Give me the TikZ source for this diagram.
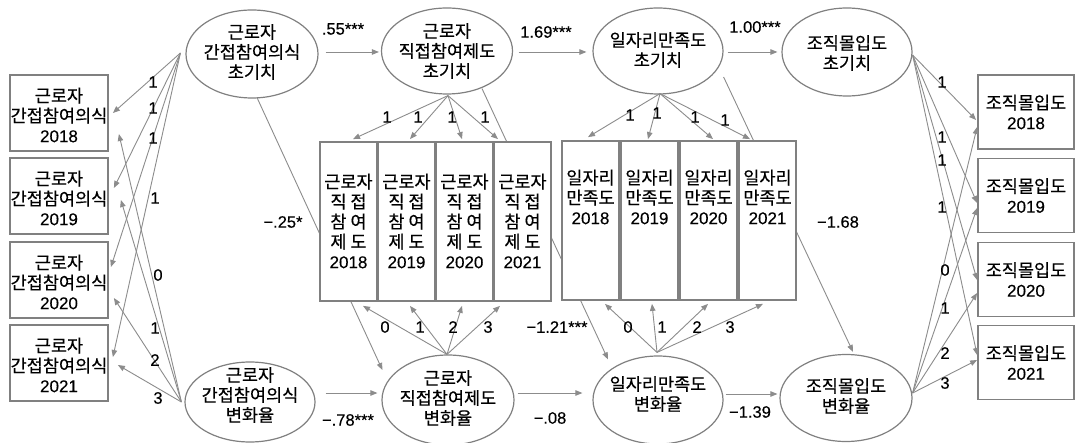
\documentclass[tikz,border=0pt]{standalone}
\usepackage{fontspec}
\usetikzlibrary{shapes.geometric,arrows.meta,calc}
\newfontfamily\krf[FakeBold=0.4]{Noto Sans CJK KR}
\newfontfamily\numf[FakeBold=0.3]{Liberation Sans}
\definecolor{lc}{HTML}{8C8C8C}
\definecolor{bc}{HTML}{808080}
\newcommand\yrtxt[1]{{\numf\fontsize{17}{20}\selectfont #1}}
\begin{document}
\begin{tikzpicture}[x=1pt,y=-1pt,
  lat/.style={ellipse, draw=bc, line width=1.2pt, fill=white, inner sep=0pt},
  obs/.style={rectangle, draw=bc, line width=1.8pt, fill=white, inner sep=0pt},
  txt/.style={align=center, inner sep=0pt, font=\krf\fontsize{17.5}{20}\selectfont},
  lab/.style={inner sep=0pt, font=\numf\fontsize{16.5}{18}\selectfont},
  pth/.style={draw=lc, line width=0.9pt, -{Triangle[length=7pt,width=5.5pt,fill=lc]}}
]
\useasboundingbox[fill=white] (0,0) rectangle (1075,443);

% latent variables
\node[lat, minimum width=132pt, minimum height=88pt] (L1) at (252,54) {};
\node[lat, minimum width=131pt, minimum height=86pt] (L2) at (447,51) {};
\node[lat, minimum width=130pt, minimum height=86pt] (L3) at (658,51) {};
\node[lat, minimum width=130pt, minimum height=88pt] (L4) at (847,52) {};
\node[lat, minimum width=130pt, minimum height=80pt] (S1) at (250,402) {};
\node[lat, minimum width=132pt, minimum height=90pt] (S2) at (448,400) {};
\node[lat, minimum width=130pt, minimum height=88pt] (S3) at (658,400) {};
\node[lat, minimum width=132pt, minimum height=87pt] (S4) at (846,398) {};

\node[txt] (L1t) at (252,52) {근로자\\간접참여의식\\초기치};
\node[txt] (L2t) at (447,51) {근로자\\직접참여제도\\초기치};
\node[txt] (L3t) at (658,50) {일자리만족도\\초기치};
\node[txt] (L4t) at (847,53) {조직몰입도\\초기치};
\node[txt] (S1t) at (250,395) {근로자\\간접참여의식\\변화율};
\node[txt] (S2t) at (448,398) {근로자\\직접참여제도\\변화율};
\node[txt] (S3t) at (658,394) {일자리만족도\\변화율};
\node[txt] (S4t) at (846,396) {조직몰입도\\변화율};

% long paths drawn under the boxes
\draw[pth] ($(L1.south)+(5,-1)$) -- ($(S2.west)+(1,-30)$);
\draw[pth] ($(L2.south)+(35,-6)$) -- ($(S3.north)+(-50,4)$);
\draw[pth] ($(L3.east)+(0,26)$) -- ($(S4.north)+(7,-2)$);

% left observed
\foreach \i/\y/\yr in {1/113/2018,2/196/2019,3/280/2020,4/363/2021}{
  \node[obs, minimum width=98pt, minimum height=76pt] (A\i) at (59,\y) {};
  \node[txt] (A\i t) at (59,\y+2) {근로자\\간접참여의식\\\yrtxt{\yr}};
}
% middle observed (direct participation)
\foreach \i/\x/\yr in {1/348.5/2018,2/406.5/2019,3/464.5/2020,4/522.5/2021}{
  \node[obs, minimum width=57pt, minimum height=159pt] (B\i) at (\x,221.5) {};
  \node[txt] (B\i t) at (\x,221) {근로자\\직 접\\참 여\\제 도\\\yrtxt{\yr}};
}
% middle observed (job satisfaction)
\foreach \i/\x/\yr in {1/590.5/2018,2/649.5/2019,3/708.5/2020,4/767.5/2021}{
  \node[obs, minimum width=57pt, minimum height=159pt] (C\i) at (\x,220.5) {};
  \node[txt] (C\i t) at (\x,197) {일자리\\만족도\\\yrtxt{\yr}};
}
% right observed
\foreach \i/\y/\yr in {1/112/2018,2/195.5/2019,3/279.5/2020,4/362.5/2021}{
  \node[obs, minimum width=96pt, minimum height=74pt] (D\i) at (1026,\y) {};
  \node[txt] (D\i t) at (1026,\y) {조직몰입도\\\yrtxt{\yr}};
}

% origins
\coordinate (o1) at ($(L1.west)+(-5,-1)$);
\coordinate (o2) at ($(S1.west)+(-3,0)$);
\coordinate (o3) at ($(L2.south)+(1,1)$);
\coordinate (o4) at ($(S2.north)+(-1,0)$);
\coordinate (o5) at ($(L3.south)+(2,-1)$);
\coordinate (o6) at ($(S3.north)+(-1,-3)$);
\coordinate (o7) at ($(L4.east)+(0,3)$);
\coordinate (o8) at ($(S4.east)+(0,-5)$);

% left loadings
\draw[pth] (o1) -- ($(A1.east)+(4,0)$);
\draw[pth] (o1) -- ($(A2.east)+(5,-8)$);
\draw[pth] (o1) -- ($(A3.east)+(2,-13)$);
\draw[pth] (o1) -- ($(A4.east)+(4,-6)$);
\draw[pth] (o2) -- ($(A1.east)+(10,21)$);
\draw[pth] (o2) -- ($(A2.east)+(12,4)$);
\draw[pth] (o2) -- ($(A3.east)+(5,18)$);
\draw[pth] (o2) -- ($(A4.east)+(9,2)$);

% direct participation loadings
\draw[pth] (o3) -- ($(B1.north)+(4.5,-2)$);
\draw[pth] (o3) -- ($(B2.north)+(3.5,-2)$);
\draw[pth] (o3) -- ($(B3.north)+(-2.5,-2)$);
\draw[pth] (o3) -- ($(B4.north)+(-24.5,-2)$);
\draw[pth] (o4) -- ($(B1.south)+(14.5,4)$);
\draw[pth] (o4) -- ($(B2.south)+(3.5,4)$);
\draw[pth] (o4) -- ($(B3.south)+(-2.5,4)$);
\draw[pth] (o4) -- ($(B4.south)+(-22.5,4)$);

% job satisfaction loadings
\draw[pth] (o5) -- ($(C1.north)+(-2.5,-3)$);
\draw[pth] (o5) -- ($(C2.north)+(-1.5,-1)$);
\draw[pth] (o5) -- ($(C3.north)+(4.5,-1)$);
\draw[pth] (o5) -- ($(C4.north)+(-17.5,-1)$);
\draw[pth] (o6) -- ($(C1.south)+(14.5,3)$);
\draw[pth] (o6) -- ($(C2.south)+(2.5,3)$);
\draw[pth] (o6) -- ($(C3.south)+(-0.5,3)$);
\draw[pth] (o6) -- ($(C4.south)+(-4.5,3)$);

% right loadings
\draw[pth] (o7) -- ($(D1.west)+(-1,8)$);
\draw[pth] (o7) -- ($(D2.west)+(0,7.5)$);
\draw[pth] (o7) -- ($(D3.west)+(0,0.5)$);
\draw[pth] (o7) -- ($(D4.west)+(0,-7.5)$);
\draw[pth] (o8) -- ($(D1.west)+(0,15)$);
\draw[pth] (o8) -- ($(D2.west)+(0,12.5)$);
\draw[pth] (o8) -- ($(D3.west)+(0,13.5)$);
\draw[pth] (o8) -- ($(D4.west)+(0,-2.5)$);

% structural horizontal paths
\draw[pth] ($(L1.east)+(7,-2)$) -- ($(L2.west)+(-2,1)$);
\draw[pth] ($(L2.east)+(5.5,1)$) -- ($(L3.west)+(-6,1)$);
\draw[pth] ($(L3.east)+(4,1)$) -- ($(L4.west)+(-4,0)$);
\draw[pth] ($(S1.east)+(10,-9)$) -- ($(S2.west)+(-4,-7)$);
\draw[pth] ($(S2.east)+(3,-7)$) -- ($(S3.west)+(-10,-7)$);
\draw[pth] ($(S3.east)+(2,-6)$) -- ($(S4.west)+(-2,-4)$);

% path labels
\node[lab] (k1) at (343,29) {.55***};
\node[lab] (k2) at (546,32) {1.69***};
\node[lab] (k3) at (755,27) {1.00***};
\node[lab] (k4) at (348,420) {−.78***};
\node[lab] (k5) at (550,418) {−.08};
\node[lab] (k6) at (750,412) {−1.39};
\node[lab] (k7) at (283,222) {−.25*};
\node[lab] (k8) at (557,327) {−1.21***};
\node[lab] (k9) at (838,222) {−1.68};

% loading labels
\foreach \x/\y/\t [count=\n] in {
  153/82/1, 153/108/1, 153/138/1, 155/198/1,
  158/275/0, 155/328/1, 155/360/2, 158/398/3,
  387/117/1, 418/117/1, 452/117/1, 485/117/1,
  385/327/0, 420/327/1, 453/327/2, 488/327/3,
  630/115/1, 657/113/1, 695/117/1, 725/120/1,
  628/327/0, 662/327/1, 697/327/2, 730/327/3,
  942/82/1, 942/137/1, 942/160/1, 942/207/1,
  945/270/0, 945/308/1, 945/353/2, 945/383/3}{
  \node[lab] (n\n) at (\x,\y) {\t};
}
\end{tikzpicture}
\end{document}
